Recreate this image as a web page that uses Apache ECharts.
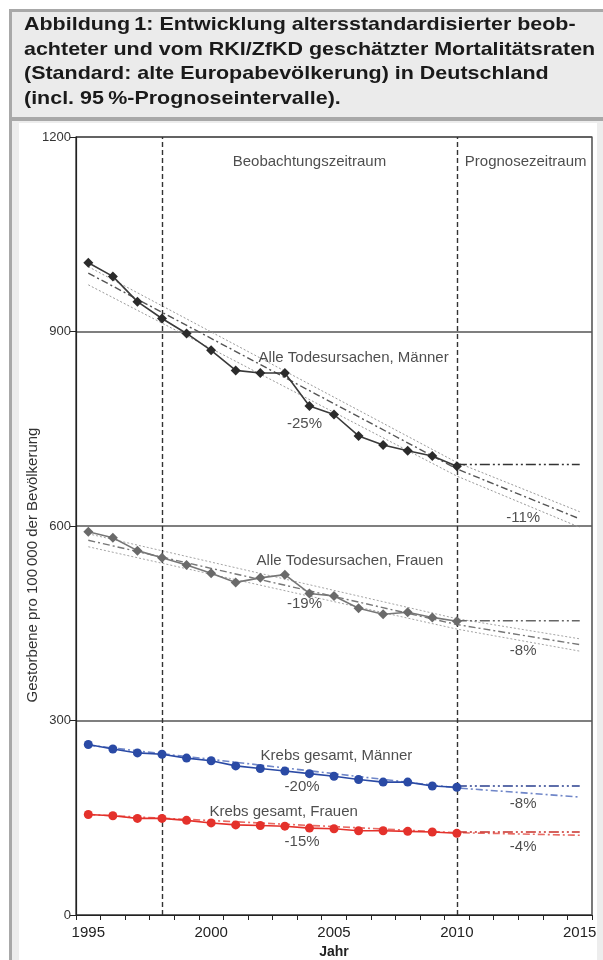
<!DOCTYPE html>
<html>
<head>
<meta charset="utf-8">
<script src="https://cdn.jsdelivr.net/npm/echarts@6/dist/echarts.min.js"></script>
<style>
html,body{margin:0;padding:0;background:#fff;}
#chart{width:603px;height:960px;}
</style>
</head>
<body>
<div id="chart"></div>
<script>
// ---- data ----
const categories = ['1995','1996','1997','1998','1999','2000','2001','2002','2003','2004','2005','2006','2007','2008','2009','2010','2011','2012','2013','2014','2015'];
const obsYears = [1995,1996,1997,1998,1999,2000,2001,2002,2003,2004,2005,2006,2007,2008,2009,2010];
const menAll      = [1006,985,946,920,897,871,840,836,836,785,772,739,725,716,708,692];
const womenAll    = [591,582,562,551,540,527,513,520,525,496,492,473,464,467,459,453];
const cancerMen   = [263,256,250,248,242,238,230,226,222,218,214,209,205,205,199,197];
const cancerWomen = [155,153,149,149,146,142,139,138,137,134,133,130,130,129,128,126];

const trendYears = [1995,2010,2015];
const menTrend  = [990,688,611];
const menUpper  = [1000,698,622];
const menLower  = [972,677,598];
const womenTrend = [578,448,417];
const womenUpper = [588,457,426];
const womenLower = [568,441,407];
const cancerMenTrend   = [262,196,182];
const cancerWomenTrend = [155,127,123];

const constYears = [2010,2015];
const menConst = [695,695];
const womenConst = [454,454];
const cancerMenConst = [199,199];
const cancerWomenConst = [128,128];

const periodLines = [1998,2010];

const titleLines = [
  'Abbildung\u20091: Entwicklung altersstandardisierter beob-',
  'achteter und vom RKI/ZfKD geschätzter Mortalitätsraten',
  '(Standard: alte Europabevölkerung) in Deutschland',
  '(incl. 95\u2009%-Prognoseintervalle).'
];
const yAxisTitle = 'Gestorbene pro 100\u2009000 der Bevölkerung';
const xAxisTitle = 'Jahr';

// annotations: [year, value, text]
const annotations = [
  [2004.0, 1162, 'Beobachtungszeitraum'],
  [2012.8, 1162, 'Prognosezeitraum'],
  [2005.8, 859, 'Alle Todesursachen, Männer'],
  [2003.8, 757, '-25%'],
  [2012.7, 612, '-11%'],
  [2005.65, 546, 'Alle Todesursachen, Frauen'],
  [2003.8, 480, '-19%'],
  [2012.7, 408, '-8%'],
  [2005.1, 245, 'Krebs gesamt, Männer'],
  [2003.7, 197, '-20%'],
  [2012.7, 171, '-8%'],
  [2002.95, 159, 'Krebs gesamt, Frauen'],
  [2003.7, 113, '-15%'],
  [2012.7, 105, '-4%']
];

// ---- helpers ----
const pairs = (xs, ys) => xs.map((x, i) => [x, ys[i]]);
const FONT = '"Liberation Sans", Arial, sans-serif';

function lineSeries(xs, ys, color, width, type, extra) {
  return Object.assign({
    type: 'line', xAxisIndex: 1, yAxisIndex: 0,
    data: pairs(xs, ys), showSymbol: false, symbol: 'none', silent: true,
    lineStyle: { color: color, width: width, type: type },
    z: 2
  }, extra || {});
}
function obsSeries(ys, color, lineColor, symbol, size) {
  return {
    type: 'line', xAxisIndex: 1, yAxisIndex: 0,
    data: pairs(obsYears, ys), symbol: symbol, symbolSize: size,
    itemStyle: { color: color }, lineStyle: { color: lineColor, width: 1.6 },
    z: 5
  };
}

const chart = echarts.init(document.getElementById('chart'), null, { renderer: 'canvas' });

const titleY = [25, 49.5, 74, 99];

const option = {
  animation: false,
  backgroundColor: '#ffffff',
  textStyle: { fontFamily: FONT },
  grid: { left: 76, right: 11, top: 137, bottom: 45, containLabel: false, outerBoundsMode: 'none',
          show: true, borderColor: '#222', borderWidth: 1.2, backgroundColor: 'transparent' },
  xAxis: [
    {
      type: 'category', data: categories, boundaryGap: true,
      axisLine: { lineStyle: { color: '#222', width: 1.2 } },
      axisTick: { show: true, interval: 0, length: 5, lineStyle: { color: '#222' } },
      axisLabel: { interval: function (i) { return i % 5 === 0; }, fontSize: 15, color: '#222', margin: 10, fontFamily: FONT },
      splitLine: { show: false },
      name: xAxisTitle, nameLocation: 'middle', nameGap: 30,
      nameTextStyle: { fontSize: 14, fontWeight: 'bold', color: '#222', fontFamily: FONT }
    },
    {
      type: 'value', min: 1994.5, max: 2015.5, show: false
    }
  ],
  yAxis: [{
    type: 'value', min: 0, max: 1200, interval: 300,
    axisLine: { show: true, lineStyle: { color: '#222', width: 1.2 } },
    axisTick: { show: true, length: 6, lineStyle: { color: '#222' } },
    axisLabel: { fontSize: 13, color: '#333', margin: 5, fontFamily: FONT, formatter: v => String(v) },
    splitLine: { show: true, lineStyle: { color: '#555', width: 1.5 } }
  }],
  graphic: [
    // frame decorations
    { type: 'rect', shape: { x: 9, y: 9, width: 600, height: 960 }, style: { fill: '#a8a8a8' }, z: -10, silent: true },
    { type: 'rect', shape: { x: 12, y: 12, width: 600, height: 105 }, style: { fill: '#ebebeb' }, z: -9, silent: true },
    { type: 'rect', shape: { x: 12, y: 121, width: 600, height: 840 }, style: { fill: '#ededed' }, z: -9, silent: true },
    { type: 'rect', shape: { x: 19, y: 123, width: 578, height: 840 }, style: { fill: '#ffffff' }, z: -8, silent: true },
  ].concat(titleLines.map((t, i) => ({
    type: 'text', x: 24, y: titleY[i], scaleX: 1.16, silent: true, z: 10,
    style: { text: t, fill: '#1a1a1a', font: 'bold 18.5px ' + FONT, align: 'left', verticalAlign: 'middle' }
  }))).concat([{
    type: 'text', x: 33, y: 565, rotation: Math.PI / 2, silent: true, z: 10,
    style: { text: yAxisTitle, fill: '#333', align: 'center', verticalAlign: 'middle', font: '15px ' + FONT }
  }]),
  series: [
    // bands & trends
    lineSeries(trendYears, menUpper, '#9a9a9a', 1, [2, 2]),
    lineSeries(trendYears, menLower, '#9a9a9a', 1, [2, 2]),
    lineSeries(trendYears, menTrend, '#555', 1.4, [7, 3, 2, 3]),
    lineSeries(trendYears, womenUpper, '#a5a5a5', 1, [2, 2]),
    lineSeries(trendYears, womenLower, '#a5a5a5', 1, [2, 2]),
    lineSeries(trendYears, womenTrend, '#777', 1.4, [7, 3, 2, 3]),
    lineSeries(trendYears, cancerMenTrend, '#6f86c8', 1.6, [7, 3, 2, 3]),
    lineSeries(trendYears, cancerWomenTrend, '#e86a63', 1.6, [7, 3, 2, 3]),
    // constant-rate forecasts
    lineSeries(constYears, menConst, '#333', 1.5, [10, 3, 2, 3, 2, 3]),
    lineSeries(constYears, womenConst, '#666', 1.5, [10, 3, 2, 3, 2, 3]),
    lineSeries(constYears, cancerMenConst, '#2a3f8f', 1.5, [10, 3, 2, 3, 2, 3]),
    lineSeries(constYears, cancerWomenConst, '#c8302a', 1.5, [10, 3, 2, 3, 2, 3]),
    // observed
    obsSeries(menAll, '#2b2b2b', '#3a3a3a', 'diamond', 10),
    obsSeries(womenAll, '#6a6a6a', '#777', 'diamond', 10),
    obsSeries(cancerMen, '#2a4aa5', '#2a4aa5', 'circle', 9),
    obsSeries(cancerWomen, '#e4312b', '#e4312b', 'circle', 9),
    // period separators
    {
      type: 'line', xAxisIndex: 1, yAxisIndex: 0, data: [], silent: true,
      markLine: {
        symbol: 'none', silent: true, label: { show: false },
        lineStyle: { color: '#333', type: [5, 3], width: 1.4 },
        data: periodLines.map(y => ({ xAxis: y }))
      }, z: 4
    },
    // annotations
    {
      type: 'scatter', xAxisIndex: 1, yAxisIndex: 0, symbolSize: 0, silent: true, z: 8,
      data: annotations.map(a => ({ value: [a[0], a[1]], name: a[2] })),
      label: {
        show: true, position: 'inside', formatter: p => p.name,
        fontSize: 15, color: '#222', fontFamily: FONT
      }
    }
  ]
};
chart.setOption(option);
</script>
</body>
</html>
